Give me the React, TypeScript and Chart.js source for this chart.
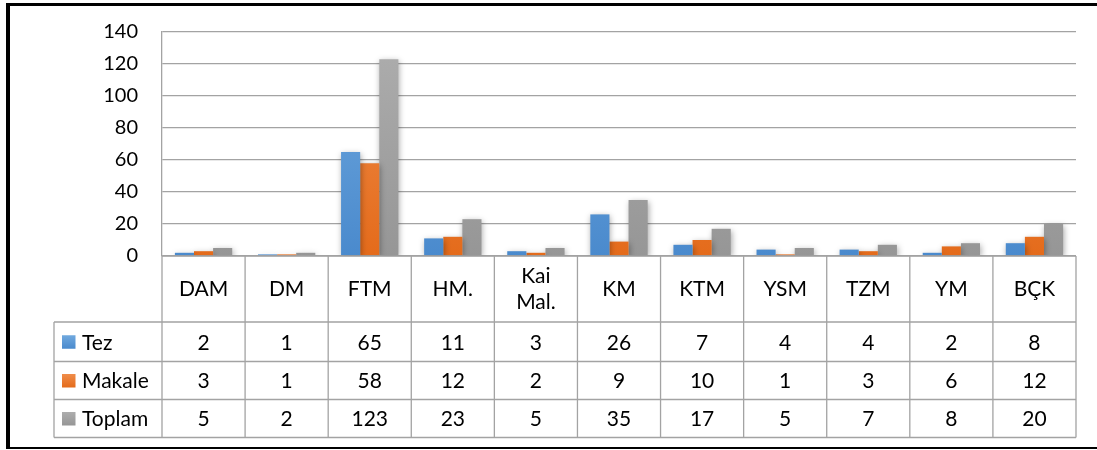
import React, { useEffect, useRef } from "react";
import { Chart, registerables } from "chart.js";

Chart.register(...registerables);

const categories = ["DAM", "DM", "FTM", "HM.", "Kai\nMal.", "KM", "KTM", "YSM", "TZM", "YM", "BÇK"];
const tezValues = [2, 1, 65, 11, 3, 26, 7, 4, 4, 2, 8];
const makaleValues = [3, 1, 58, 12, 2, 9, 10, 1, 3, 6, 12];
const toplamValues = [5, 2, 123, 23, 5, 35, 17, 5, 7, 8, 20];
const seriesNames = ["Tez", "Makale", "Toplam"];
const yTicks = [0, 20, 40, 60, 80, 100, 120, 140];

const FONT = "Lato, 'Open Sans', sans-serif";
const colors = ["#5B9BD5", "#ED7D31", "#A5A5A5"];
const gradStops = [
  ["#72AADF", "#4A8ACD"],
  ["#F08E4C", "#E46B1B"],
  ["#AEAEAE", "#969696"],
];

const LINE = "#A3A3A3";

function makeGrad(chart: any, idx: number) {
  const ca = chart.chartArea;
  if (!ca) return colors[idx];
  const g = chart.ctx.createLinearGradient(0, ca.top, 0, ca.bottom);
  g.addColorStop(0, gradStops[idx][0]);
  g.addColorStop(1, gradStops[idx][1]);
  return g;
}

const shadowPlugin = {
  id: "barShadow",
  beforeDatasetsDraw(chart: any) {
    const ctx = chart.ctx;
    ctx.save();
    ctx.shadowColor = "rgba(0,0,0,0.35)";
    ctx.shadowBlur = 6;
    ctx.shadowOffsetX = 1;
    ctx.shadowOffsetY = 2;
  },
  afterDatasetsDraw(chart: any) {
    chart.ctx.restore();
  },
};

const tablePlugin = {
  id: "dataTable",
  afterDraw(chart: any) {
    const { ctx, chartArea, scales } = chart;
    const x = scales.x;
    const n = categories.length;
    const left = chartArea.left;
    const right = chartArea.right;
    const top0 = chartArea.bottom;
    const catW = (right - left) / n;
    const rows = [top0, top0 + 66, top0 + 105.5, top0 + 143.5, top0 + 181.5];
    const legendLeft = 54;
    const allSeries = [tezValues, makaleValues, toplamValues];

    ctx.save();
    ctx.strokeStyle = LINE;
    ctx.lineWidth = 1.3;
    ctx.beginPath();
    ctx.moveTo(left, rows[0]);
    ctx.lineTo(right, rows[0]);
    for (let r = 1; r < rows.length; r++) {
      ctx.moveTo(legendLeft, rows[r]);
      ctx.lineTo(right, rows[r]);
    }
    for (let i = 0; i <= n; i++) {
      const xx = left + i * catW;
      ctx.moveTo(xx, rows[0]);
      ctx.lineTo(xx, rows[4]);
    }
    ctx.moveTo(legendLeft, rows[1]);
    ctx.lineTo(legendLeft, rows[4]);
    ctx.stroke();

    ctx.fillStyle = "#000";
    ctx.font = `21px ${FONT}`;
    ctx.textAlign = "center";
    ctx.textBaseline = "middle";
    for (let i = 0; i < n; i++) {
      const cx = x.getPixelForValue(i);
      const lines = categories[i].split("\n");
      const mid = (rows[0] + rows[1]) / 2;
      const lh = 26;
      lines.forEach((ln, k) => {
        ctx.fillText(ln, cx, mid + (k - (lines.length - 1) / 2) * lh);
      });
      allSeries.forEach((vals, r) => {
        ctx.fillText(String(vals[i]), cx, (rows[r + 1] + rows[r + 2]) / 2 + 1);
      });
    }
    ctx.textAlign = "left";
    seriesNames.forEach((name, r) => {
      const cy = (rows[r + 1] + rows[r + 2]) / 2;
      const g = ctx.createLinearGradient(0, cy - 7, 0, cy + 7);
      g.addColorStop(0, gradStops[r][0]);
      g.addColorStop(1, gradStops[r][1]);
      ctx.fillStyle = g;
      ctx.fillRect(62, cy - 6.5, 13.5, 13.5);
      ctx.fillStyle = "#000";
      ctx.fillText(name, 82, cy + 1);
    });

    // outer frame
    ctx.fillStyle = "#000";
    ctx.fillRect(6, 3, 1097 - 6, 3);
    ctx.fillRect(6, 3, 4, 446);
    ctx.fillRect(6, 447, 1097 - 6, 2);
    ctx.restore();
  },
};

export default function App() {
  const ref = useRef<HTMLCanvasElement | null>(null);
  useEffect(() => {
    if (!ref.current) return;
    const chart = new Chart(ref.current, {
      type: "bar",
      data: {
        labels: categories,
        datasets: [tezValues, makaleValues, toplamValues].map((vals, idx) => ({
          label: seriesNames[idx],
          data: vals,
          backgroundColor: (c: any) => makeGrad(c.chart, idx),
          borderWidth: 0,
          categoryPercentage: 0.69,
          barPercentage: 1,
        })),
      },
      options: {
        responsive: false,
        animation: false,
        layout: { padding: { left: 0, top: 32, right: 21, bottom: 194 } },
        plugins: { legend: { display: false }, tooltip: { enabled: false } },
        scales: {
          x: { display: false },
          y: {
            min: 0,
            max: 140,
            afterBuildTicks: (s: any) => {
              s.ticks = yTicks.map((v) => ({ value: v }));
            },
            afterFit: (s: any) => {
              s.width = 162;
              s.paddingTop = 0;
              s.paddingBottom = 0;
            },
            grid: { color: LINE, lineWidth: 1.3, drawTicks: false },
            border: { display: true, color: LINE, width: 1.3 },
            ticks: {
              padding: 24,
              color: "#000",
              font: { family: FONT, size: 20 },
            },
          },
        },
      },
      plugins: [shadowPlugin, tablePlugin],
    });
    return () => chart.destroy();
  }, []);
  return (
    <div style={{ position: "fixed", left: 0, top: 0, width: 1097, height: 450, background: "#fff" }}>
      <canvas ref={ref} width={1097} height={450} style={{ width: 1097, height: 450, display: "block" }} />
    </div>
  );
}
